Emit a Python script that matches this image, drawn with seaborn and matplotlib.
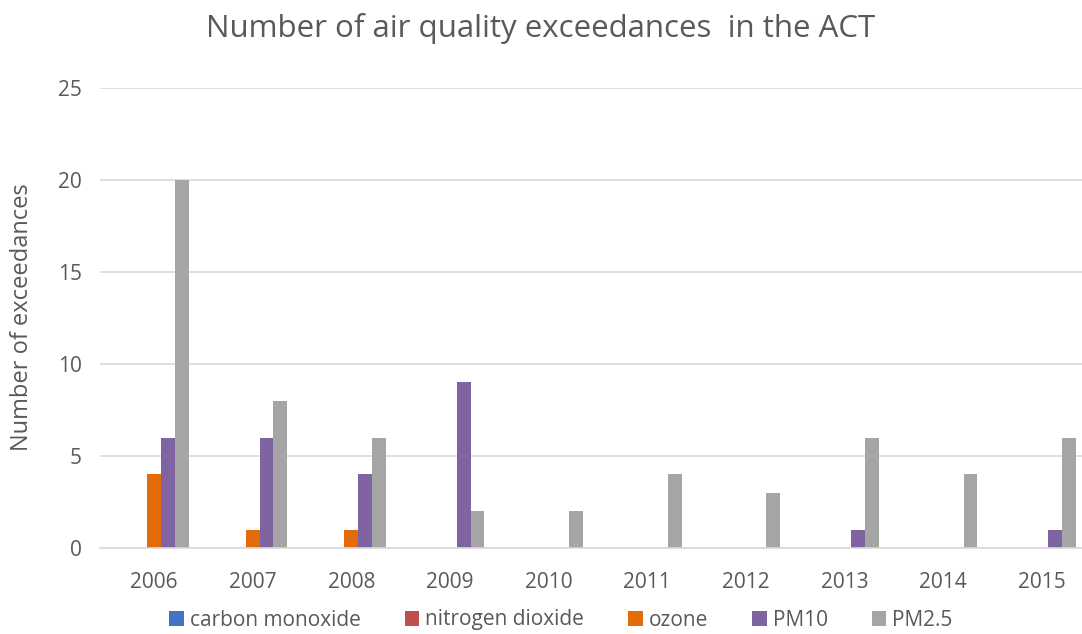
import pandas as pd
import seaborn as sns
import matplotlib.pyplot as plt

# Exceedance counts
years = ['2006', '2007', '2008', '2009', '2010', '2011', '2012', '2013', '2014', '2015']
carbon_monoxide = [0, 0, 0, 0, 0, 0, 0, 0, 0, 0]
nitrogen_dioxide = [0, 0, 0, 0, 0, 0, 0, 0, 0, 0]
ozone = [4, 1, 1, 0, 0, 0, 0, 0, 0, 0]
pm10 = [6, 6, 4, 9, 0, 0, 0, 1, 0, 1]
pm25 = [20, 8, 6, 2, 2, 4, 3, 6, 4, 6]

series = ['carbon monoxide', 'nitrogen dioxide', 'ozone', 'PM10', 'PM2.5']
colors = ['#4472C4', '#C0504D', '#E36C09', '#8064A2', '#A5A5A5']

wide = pd.DataFrame({'year': years,
                     'carbon monoxide': carbon_monoxide,
                     'nitrogen dioxide': nitrogen_dioxide,
                     'ozone': ozone,
                     'PM10': pm10,
                     'PM2.5': pm25})
df = wide.melt(id_vars='year', var_name='pollutant', value_name='count')

sns.set_style('white')
plt.rcParams['font.family'] = ['Open Sans', 'DejaVu Sans']
text_col = '#595959'

fig = plt.figure(figsize=(10.82, 6.34), dpi=100)
# plot area runs a little past the right edge of the picture
ax = fig.add_axes([100 / 1082, 86 / 634, 982 / 1082, 460 / 634])

sns.barplot(data=df, x='year', y='count', hue='pollutant', hue_order=series,
            palette=colors, width=0.7, linewidth=0, saturation=1, ax=ax)

ax.set_ylim(0, 25)
ax.set_yticks(range(0, 26, 5))
ax.set_xlim(-0.548, 9.41)
ax.yaxis.grid(True, color='#D9D9D9', linewidth=1.2)
ax.set_axisbelow(True)
for s in ['top', 'right', 'left']:
    ax.spines[s].set_visible(False)
ax.spines['bottom'].set_color('#D9D9D9')
ax.spines['bottom'].set_linewidth(1.2)
ax.tick_params(axis='both', length=0, labelsize=15, colors=text_col)
ax.tick_params(axis='x', pad=17)
ax.tick_params(axis='y', pad=13)
ax.set_xlabel('')
ax.set_ylabel('')
ax.get_legend().remove()

fig.text(22 / 1082, 0.5, 'Number of exceedances', rotation=90, fontsize=17,
         color=text_col, ha='center', va='center')
fig.text(0.5, 1 - 37 / 634, 'Number of air quality exceedances  in the ACT',
         fontsize=22.5, color=text_col, ha='center', va='baseline')

handles, labels = ax.get_legend_handles_labels()
fig.legend(handles, labels, loc='center', bbox_to_anchor=(561 / 1082, 1 - 620 / 634),
           ncol=5, frameon=False, fontsize=15, labelcolor=text_col,
           handlelength=0.7, handleheight=0.7, handletextpad=0.3,
           columnspacing=2.1, borderpad=0, borderaxespad=0)

fig.savefig('out.png', dpi=100)
